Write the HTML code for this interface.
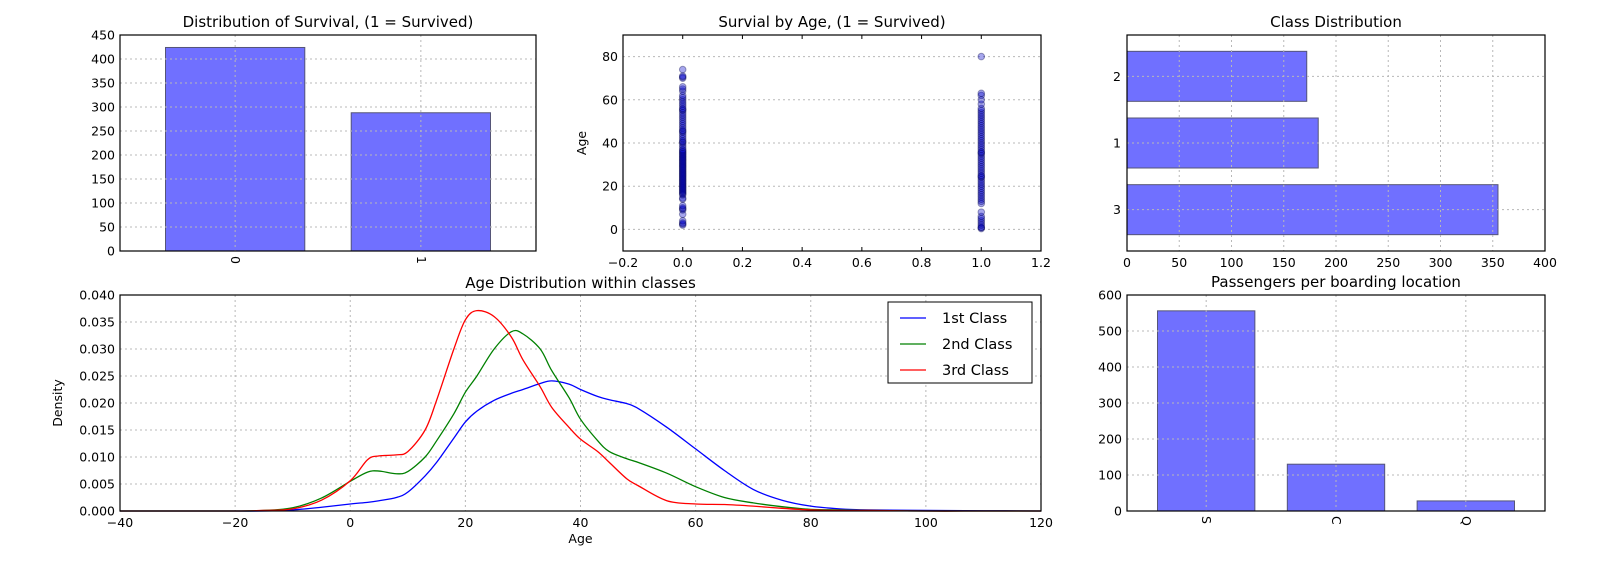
<!DOCTYPE html>
<html><head><meta charset="utf-8"><style>
html,body{margin:0;padding:0;background:#fff;}
svg{display:block;font-family:"DejaVu Sans","Liberation Sans",sans-serif;}
</style></head><body>
<svg id="fig" width="1600" height="561" viewBox="0 0 1600 561" xmlns="http://www.w3.org/2000/svg"></svg>
<script>
// ---- data ----
const survCats = ['0','1'];
const survVals = [424, 288];
const survTicks = [0,50,100,150,200,250,300,350,400,450];

const scatDead = [2,2.5,3,4,7,9,9.5,10,11,14,14.5,16,16.5,17,17.5,18,18.5,19,19.5,20,20.5,21,21.5,22,22.5,23,23.5,24,24.5,25,25.5,26,26.5,27,27.5,28,28.5,29,29.5,30,30.5,31,31.5,32,32.5,33,33.5,34,34.5,35,35.5,36,36.5,37,38,39,40,40.5,41,42,43,44,45,45.5,46,47,48,49,50,51,52,53,54,55,55.5,56,57,58,59,60,61,62,64,65,66,70,70.5,71,74];
const scatAlive = [0.4,0.8,1,2,3,4,5,6,8,12,13,14,15,16,17,18,19,20,21,22,23,24,24.5,25,26,27,28,29,30,31,32,33,34,35,35.5,36,37,38,39,40,41,42,43,44,45,46,47,48,49,50,51,52,53,54,55,56,58,60,62,63,80];
const scatXTicks = [-0.2,0.0,0.2,0.4,0.6,0.8,1.0,1.2];
const scatYTicks = [0,20,40,60,80];

const classCats = ['3','1','2'];
const classVals = [355, 183, 172];
const classTicks = [0,50,100,150,200,250,300,350,400];

const kdeX =      [-40,-30,-20,-15,-10,-5,0,3,5,8,10,13,15,18,20,22,25,28,30,33,35,38,40,43,45,48,50,55,60,65,70,75,80,85,90,100,110,120];
const kdeFirst =  [0,0,0,0,0.0002,0.0007,0.0013,0.0016,0.0019,0.0025,0.0035,0.0065,0.009,0.0135,0.0165,0.0185,0.0205,0.0218,0.0225,0.0236,0.0241,0.0235,0.0225,0.0212,0.0206,0.0199,0.019,0.0155,0.0115,0.0075,0.004,0.002,0.0009,0.0004,0.0002,0.0001,0.00005,0];
const kdeSecond = [0,0,0,0.0001,0.0006,0.0024,0.0055,0.0072,0.0074,0.0069,0.0073,0.010,0.013,0.018,0.022,0.025,0.030,0.0332,0.0328,0.030,0.026,0.021,0.017,0.013,0.011,0.0097,0.009,0.007,0.0045,0.0025,0.0015,0.0008,0.0003,0.0002,0.0001,0,0,0];
const kdeThird =  [0,0,0,0.0001,0.0004,0.002,0.0056,0.0095,0.0102,0.0104,0.011,0.015,0.0205,0.030,0.0354,0.0371,0.036,0.0322,0.028,0.023,0.0192,0.0155,0.0133,0.011,0.009,0.006,0.0047,0.0019,0.0013,0.0012,0.0009,0.0005,0.0002,0.0001,0.0001,0,0,0];
const kdeXTicks = [-40,-20,0,20,40,60,80,100,120];
const kdeYTicks = [0,0.005,0.010,0.015,0.020,0.025,0.030,0.035,0.040];
const kdeYLabels = ['0.000','0.005','0.010','0.015','0.020','0.025','0.030','0.035','0.040'];

const portCats = ['S','C','Q'];
const portVals = [556, 130, 28];
const portTicks = [0,100,200,300,400,500,600];

// ---- helpers ----
const NS='http://www.w3.org/2000/svg';
const svg=document.getElementById('fig');
function mk(tag, attrs, parent){const e=document.createElementNS(NS,tag);for(const k in attrs)e.setAttribute(k,attrs[k]);(parent||svg).appendChild(e);return e;}
function txt(s, attrs, parent){const e=mk('text',attrs,parent);e.textContent=s;return e;}
const BAR='#7070ff', EDGE='#555577', GRID='#b8b8b8', FS=12.5;
function lin(d0,d1,p0,p1){return v=>p0+(v-d0)*(p1-p0)/(d1-d0);}
function frame(g,L,T,R,B){
  const r=mk('rect',{x:L,y:T,width:R-L,height:B-T,fill:'none',stroke:'#000','stroke-width':1.2},g);
  
  
}
function hgrid(g,y,L,R){const l=mk('line',{x1:L,x2:R,y1:y,y2:y,stroke:GRID,'stroke-dasharray':'2,3'},g);
  
  }
function vgrid(g,x,T,B){const l=mk('line',{x1:x,x2:x,y1:T,y2:B,stroke:GRID,'stroke-dasharray':'2,3'},g);
  
  }
function ylab(g,s,x,y){const t=txt(s,{x:x,y:y+4.5,'font-size':FS,'text-anchor':'end',fill:'#000'},g);
  
  }
function xlab(g,s,x,y){const t=txt(s,{x:x,y:y,'font-size':FS,'text-anchor':'middle',fill:'#000'},g);
  
  }
function xlabRot(g,s,x,y){const t=txt(s,{x:x,y:y,'font-size':FS,'text-anchor':'start',fill:'#000',transform:`rotate(90 ${x} ${y}) translate(0 4)`},g);
  
  }
function title(g,s,x,y){const t=txt(s,{x:x,y:y,'font-size':15,'text-anchor':'middle',fill:'#000'},g);
  
  }

// ---- panel 1: survival bars ----
(function(){
  const g=mk('g',{});
  
  
  const L=120,R=536,T=35,B=251;
  const x=lin(-0.62,1.62,L,R), y=lin(0,450,B,T);
  survTicks.forEach(v=>{ylab(g,String(v),L-5,y(v));});
  survCats.forEach((c,i)=>{
    const r=mk('rect',{x:x(i-0.375),y:y(survVals[i]),width:x(i+0.375)-x(i-0.375),height:B-y(survVals[i]),fill:BAR,stroke:EDGE},g);
    
    
    xlabRot(g,c,x(i),256);
  });
  survTicks.forEach(v=>{hgrid(g,y(v),L,R);});
  survCats.forEach((c,i)=>{vgrid(g,x(i),T,B);});
  frame(g,L,T,R,B);
  title(g,'Distribution of Survival, (1 = Survived)',(L+R)/2,27);
})();

// ---- panel 2: scatter ----
(function(){
  const g=mk('g',{});
  
  
  const L=623,R=1041,T=35,B=251;
  const x=lin(-0.2,1.2,L,R), y=lin(-10,90,B,T);
  scatYTicks.forEach(v=>{hgrid(g,y(v),L,R);ylab(g,String(v),L-5,y(v));});
  scatXTicks.forEach(v=>{xlab(g,v.toFixed(1).replace('-','\u2212'),x(v),267);
    mk('line',{x1:x(v),x2:x(v),y1:T,y2:T+4,stroke:'#000'},g);mk('line',{x1:x(v),x2:x(v),y1:B,y2:B-4,stroke:'#000'},g);});
  [[0,scatDead],[1,scatAlive]].forEach(([sv,arr])=>{
    arr.forEach(a=>{
      const c=mk('circle',{cx:x(sv),cy:y(a),r:3.3,fill:'#0000cc','fill-opacity':0.35,stroke:'#000044','stroke-opacity':0.35},g);
      
      
    });
  });
  frame(g,L,T,R,B);
  const yl=txt('Age',{x:0,y:0,'font-size':FS,'text-anchor':'middle',transform:`translate(${586} ${143}) rotate(-90)`},g);
  
  
  title(g,'Survial by Age,  (1 = Survived)',(L+R)/2,27);
})();

// ---- panel 3: class horizontal bars ----
(function(){
  const g=mk('g',{});
  
  
  const L=1127,R=1545,T=35,B=251;
  const x=lin(0,400,L,R), y=lin(-0.62,2.62,B,T);
  classTicks.forEach(v=>{xlab(g,String(v),x(v),267);});
  classCats.forEach((c,i)=>{
    const r=mk('rect',{x:L,y:y(i+0.375),width:x(classVals[i])-L,height:y(i-0.375)-y(i+0.375),fill:BAR,stroke:EDGE},g);
    
    
    ylab(g,c,L-6,y(i));
  });
  classTicks.forEach(v=>{vgrid(g,x(v),T,B);});
  classCats.forEach((c,i)=>{hgrid(g,y(i),L,R);});
  frame(g,L,T,R,B);
  title(g,'Class Distribution',(L+R)/2,27);
})();

// ---- panel 4: KDE ----
(function(){
  const g=mk('g',{});
  
  
  const L=120,R=1041,T=295,B=511;
  const x=lin(-40,120,L,R), y=lin(0,0.04,B,T);
  kdeYTicks.forEach((v,i)=>{hgrid(g,y(v),L,R);ylab(g,kdeYLabels[i],L-5,y(v));});
  kdeXTicks.forEach(v=>{vgrid(g,x(v),T,B);xlab(g,String(v).replace('-','\u2212'),x(v),527);});
  function curve(vals,color,name){
    const pts=kdeX.map((v,i)=>[x(v),y(vals[i])]);
    let d='M'+pts[0][0]+','+pts[0][1];
    for(let i=0;i<pts.length-1;i++){
      const p0=pts[Math.max(0,i-1)],p1=pts[i],p2=pts[i+1],p3=pts[Math.min(pts.length-1,i+2)];
      const c1=[p1[0]+(p2[0]-p0[0])/6,p1[1]+(p2[1]-p0[1])/6],c2=[p2[0]-(p3[0]-p1[0])/6,p2[1]-(p3[1]-p1[1])/6];
      d+=` C${c1[0]},${c1[1]} ${c2[0]},${c2[1]} ${p2[0]},${p2[1]}`;
    }
    const p=mk('path',{d:d,fill:'none',stroke:color,'stroke-width':1.3},g);
    
    
  }
  curve(kdeFirst,'#0000ff','line-1st-class');
  curve(kdeSecond,'#008000','line-2nd-class');
  curve(kdeThird,'#ff0000','line-3rd-class');
  frame(g,L,T,R,B);
  const lg=mk('g',{},g);
  
  
  mk('rect',{x:888,y:302,width:144,height:81,fill:'#fff',stroke:'#000'},lg);
  [['1st Class','#0000ff',318],['2nd Class','#008000',344],['3rd Class','#ff0000',370]].forEach(([s,c,yy])=>{
    const e=mk('g',{},lg);
    
    
    mk('line',{x1:900,x2:926,y1:yy,y2:yy,stroke:c,'stroke-width':1.3},e);
    txt(s,{x:942,y:yy+5,'font-size':14.5},e);
  });
  const xl=txt('Age',{x:(L+R)/2,y:543,'font-size':FS,'text-anchor':'middle'},g);
  
  
  const yl=txt('Density',{x:0,y:0,'font-size':FS,'text-anchor':'middle',transform:`translate(${62} ${403}) rotate(-90)`},g);
  
  
  title(g,'Age Distribution within classes',(L+R)/2,288);
})();

// ---- panel 5: ports ----
(function(){
  const g=mk('g',{});
  
  
  const L=1127,R=1545,T=295,B=511;
  const x=lin(-0.61,2.61,L,R), y=lin(0,600,B,T);
  portTicks.forEach(v=>{ylab(g,String(v),L-5,y(v));});
  portCats.forEach((c,i)=>{
    const r=mk('rect',{x:x(i-0.375),y:y(portVals[i]),width:x(i+0.375)-x(i-0.375),height:B-y(portVals[i]),fill:BAR,stroke:EDGE},g);
    
    
    xlabRot(g,c,x(i),516);
  });
  portTicks.forEach(v=>{hgrid(g,y(v),L,R);});
  portCats.forEach((c,i)=>{vgrid(g,x(i),T,B);});
  frame(g,L,T,R,B);
  title(g,'Passengers per boarding location',(L+R)/2,287);
})();
</script>
</body></html>
